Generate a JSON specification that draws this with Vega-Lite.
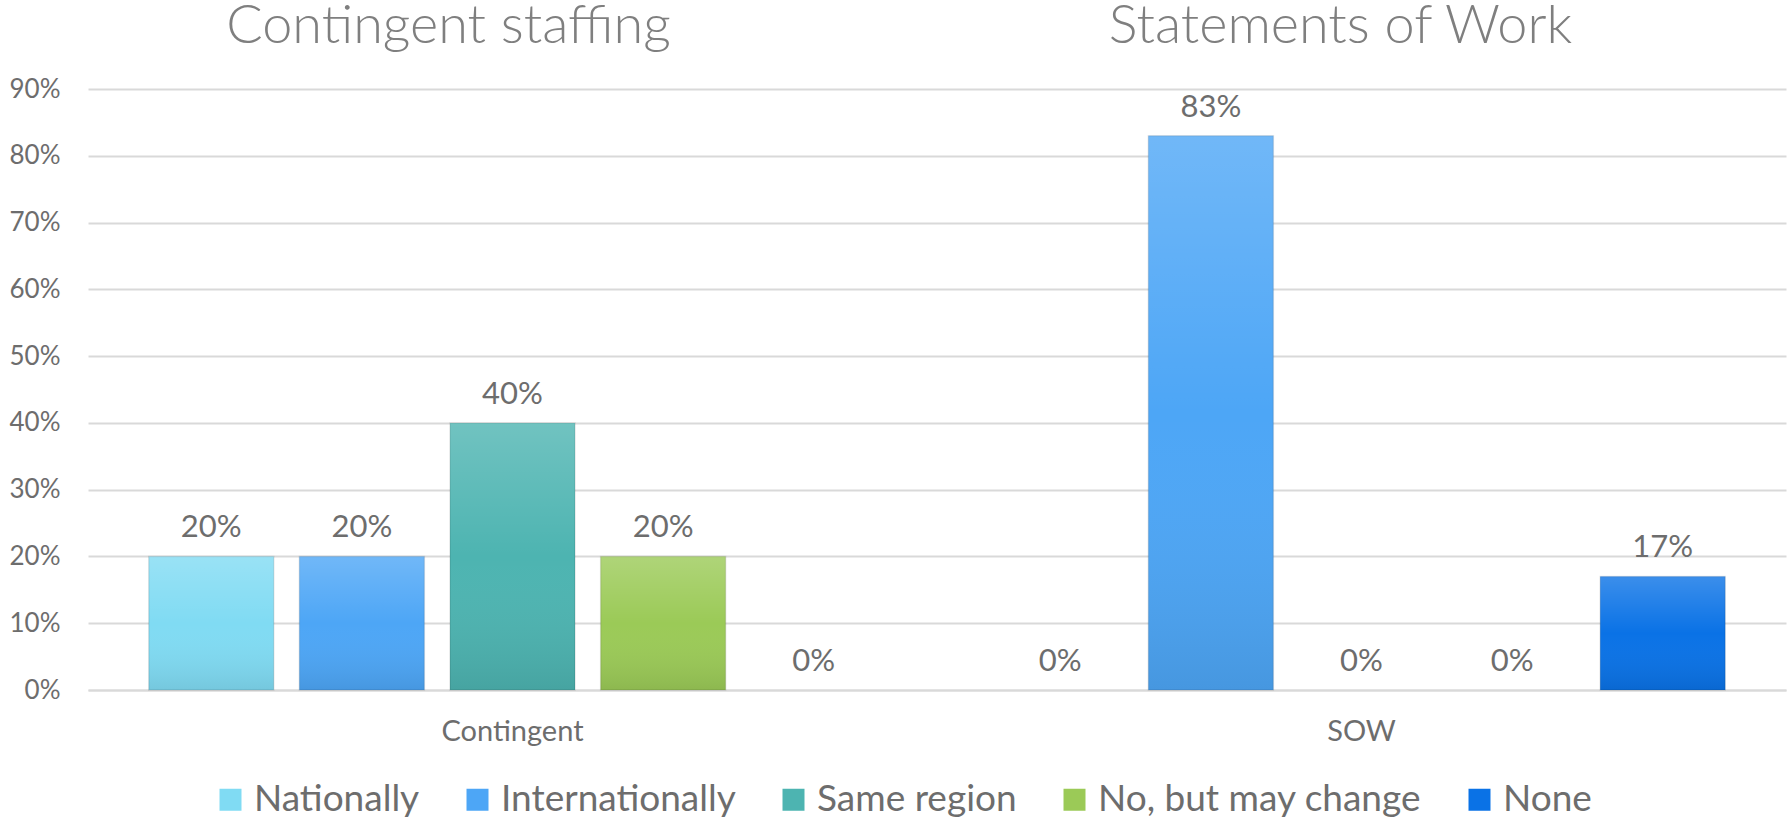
{
  "$schema": "https://vega.github.io/schema/vega-lite/v6.json",
  "width": 1698,
  "height": 601,
  "autosize": "none",
  "padding": {"left": 88, "top": 89, "right": 2, "bottom": 128},
  "background": "white",
  "config": {
    "view": {"stroke": null},
    "font": "Lato",
    "axis": {"labelFont": "Lato", "labelColor": "#6d6d6d"}
  },
  "data": {
    "values": [
      {"type": "Contingent", "series": "Nationally", "value": 0.20},
      {"type": "Contingent", "series": "Internationally", "value": 0.20},
      {"type": "Contingent", "series": "Same region", "value": 0.40},
      {"type": "Contingent", "series": "No, but may change", "value": 0.20},
      {"type": "Contingent", "series": "None", "value": 0.0},
      {"type": "SOW", "series": "Nationally", "value": 0.0},
      {"type": "SOW", "series": "Internationally", "value": 0.83},
      {"type": "SOW", "series": "Same region", "value": 0.0},
      {"type": "SOW", "series": "No, but may change", "value": 0.0},
      {"type": "SOW", "series": "None", "value": 0.17}
    ]
  },
  "encoding": {
    "x": {
      "field": "type",
      "type": "nominal",
      "sort": ["Contingent", "SOW"],
      "scale": {"paddingInner": 0.113, "paddingOuter": 0.0565}
    },
    "xOffset": {
      "field": "series",
      "type": "nominal",
      "sort": ["Nationally", "Internationally", "Same region", "No, but may change", "None"],
      "scale": {"paddingInner": 0.17, "paddingOuter": 0.085}
    },
    "y": {
      "field": "value",
      "type": "quantitative",
      "scale": {"domain": [0, 0.9], "nice": false},
      "axis": {
        "title": null,
        "values": [0, 0.1, 0.2, 0.3, 0.4, 0.5, 0.6, 0.7, 0.8, 0.9],
        "format": ".0%",
        "labelFontSize": 26,
        "labelPadding": 28,
        "ticks": false,
        "domain": false,
        "grid": true,
        "gridColor": "#d9d9d9",
        "gridWidth": 2
      }
    }
  },
  "layer": [
    {
      "mark": {"type": "bar", "stroke": "rgba(0,0,0,0.10)", "strokeWidth": 1.5},
      "encoding": {
        "x": {
          "field": "type",
          "type": "nominal",
          "sort": ["Contingent", "SOW"],
          "axis": {
            "title": null,
            "labelAngle": 0,
            "labelFontSize": 29,
            "labelPadding": 27,
            "ticks": false,
            "domain": true,
            "domainColor": "#d9d9d9",
            "domainWidth": 2,
            "grid": false
          }
        },
        "strokeOpacity": {"condition": {"test": "datum.value === 0", "value": 0}, "value": 1},
        "color": {
          "field": "series",
          "type": "nominal",
          "scale": {
            "domain": ["Nationally", "Internationally", "Same region", "No, but may change", "None"],
            "range": ["#80DBF3", "#4DA6F6", "#4DB4B1", "#9BCA57", "#0A72E6"]
          },
          "legend": {
            "title": null,
            "orient": "none",
            "direction": "horizontal",
            "legendX": 124,
            "legendY": 692,
            "symbolType": "square",
            "symbolSize": 484,
            "symbolStrokeWidth": 0,
            "symbolOpacity": 1,
            "labelFontSize": 37,
            "labelColor": "#6d6d6d",
            "labelOffset": 5,
            "columnPadding": 39,
            "labelLimit": 0
          }
        }
      }
    },
    {
      "mark": {
        "type": "bar",
        "color": {
          "gradient": "linear", "x1": 0, "y1": 0, "x2": 0, "y2": 1,
          "stops": [
            {"offset": 0, "color": "rgba(255,255,255,0.2)"},
            {"offset": 0.5, "color": "rgba(255,255,255,0)"},
            {"offset": 1, "color": "rgba(0,0,0,0.09)"}
          ]
        }
      },
      "encoding": {
        "x": {"field": "type", "type": "nominal", "sort": ["Contingent", "SOW"], "axis": null}
      }
    },
    {
      "mark": {"type": "text", "baseline": "bottom", "dy": -12, "fontSize": 31, "color": "#6d6d6d"},
      "encoding": {
        "x": {
          "field": "type",
          "type": "nominal",
          "sort": ["Contingent", "SOW"],
          "axis": {
            "orient": "top",
            "title": null,
            "labelAngle": 0,
            "labelExpr": "datum.value === 'Contingent' ? 'Contingent staffing' : 'Statements of Work'",
            "labelFontSize": 54,
            "labelFontWeight": 300,
            "labelColor": "#7f7f7f",
            "labelBaseline": "alphabetic",
            "labelPadding": 47,
            "labelLimit": 0,
            "labelOffset": {"condition": {"test": "datum.value === 'Contingent'", "value": -64}, "value": -21},
            "ticks": false,
            "domain": false,
            "grid": false
          }
        },
        "text": {"field": "value", "type": "quantitative", "format": ".0%"}
      }
    }
  ],
  "resolve": {"axis": {"x": "independent"}}
}
